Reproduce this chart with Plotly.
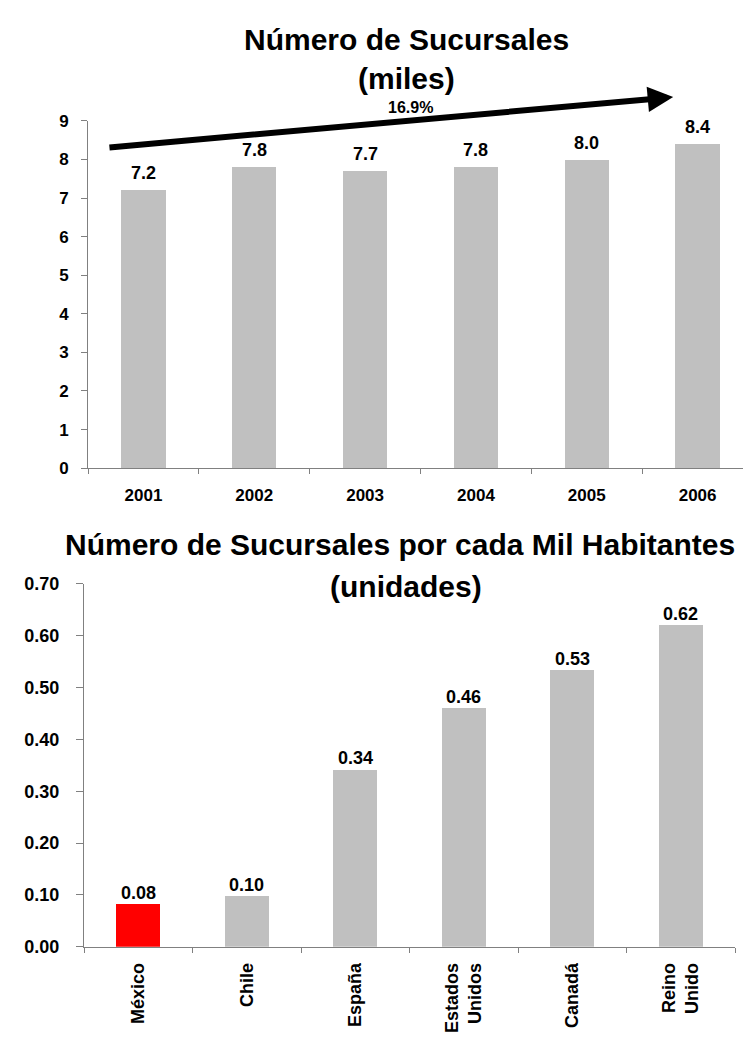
import plotly.graph_objects as go

# Número de Sucursales (miles)
YEARS = ["2001", "2002", "2003", "2004", "2005", "2006"]
BRANCHES = [7.2, 7.8, 7.7, 7.8, 8.0, 8.4]
GROWTH_TEXT = "16.9%"

# Número de Sucursales por cada Mil Habitantes (unidades)
COUNTRIES = ["México", "Chile", "España", "Estados<br>Unidos", "Canadá", "Reino<br>Unido"]
PER_THOUSAND = [0.083, 0.098, 0.342, 0.46, 0.534, 0.62]
HIGHLIGHT = "México"

FONT = "Liberation Sans, Arial, sans-serif"
GREY = "#C0C0C0"
RED = "#FF0000"
AXIS = "#808080"
W, H = 751, 1037


def px_x(v):
    return v / W


def px_y(v):
    return 1 - v / H


def bold(size):
    return dict(family=FONT, size=size, color="black", weight="bold")


fig = go.Figure()
fig.add_trace(go.Bar(
    x=YEARS, y=BRANCHES, marker=dict(color=GREY, line=dict(width=0)),
    width=0.4, xaxis="x", yaxis="y", hoverinfo="x+y",
))
fig.add_trace(go.Bar(
    x=COUNTRIES, y=PER_THOUSAND,
    marker=dict(color=[RED if c == HIGHLIGHT else GREY for c in COUNTRIES], line=dict(width=0)),
    width=0.41, xaxis="x2", yaxis="y2", hoverinfo="x+y",
))

annotations = []
# etiquetas de datos (x = índice de categoría)
for i, v in enumerate(BRANCHES):
    annotations.append(dict(
        xref="x", yref="y", x=i, y=v, text=f"{v:.1f}", showarrow=False,
        yanchor="middle", yshift=17, font=bold(18),
    ))
for i, v in enumerate(PER_THOUSAND):
    annotations.append(dict(
        xref="x2", yref="y2", x=i, y=v, text=f"{v:.2f}", showarrow=False,
        yanchor="middle", yshift=11, font=bold(18),
    ))

# flecha de crecimiento (cola dentro del eje)
annotations.append(dict(
    xref="x", yref="y", axref="x", ayref="y",
    x=4.78, y=9.62, ax=-0.32, ay=8.31, text="",
    showarrow=True, arrowhead=2, arrowsize=0.85, arrowwidth=6, arrowcolor="black",
))
annotations.append(dict(
    xref="paper", yref="paper", x=px_x(402), y=px_y(91), text=GROWTH_TEXT,
    showarrow=False, xanchor="center", yanchor="middle", font=bold(16),
))

# títulos
for text, x, y in [("Número de Sucursales", 398, 22), ("(miles)", 398, 62),
                   ("Número de Sucursales por cada Mil Habitantes", 392, 537),
                   ("(unidades)", 398, 580)]:
    annotations.append(dict(
        xref="paper", yref="paper", x=px_x(x), y=px_y(y), text=text,
        showarrow=False, xanchor="center", yanchor="middle", font=bold(30),
    ))

axis_common = dict(
    showline=True, linecolor=AXIS, linewidth=1, ticks="outside", tickcolor=AXIS,
    tickwidth=1, showgrid=False, zeroline=False, fixedrange=True,
)

fig.update_layout(
    width=W, height=H,
    margin=dict(l=0, r=0, t=0, b=0),
    paper_bgcolor="white", plot_bgcolor="white",
    showlegend=False, bargap=0,
    xaxis=dict(
        **axis_common, domain=[px_x(80), px_x(745)], anchor="y", type="category",
        range=[-0.5, len(YEARS) - 0.5], autorange=False,
        tickson="boundaries", ticklen=5, tickfont=bold(17), ticklabelstandoff=11,
    ),
    yaxis=dict(
        **axis_common, domain=[px_y(459), px_y(105)], anchor="x", range=[0, 9],
        autorange=False, dtick=1, ticklen=6, tickfont=bold(17), ticklabelstandoff=9,
    ),
    xaxis2=dict(
        **axis_common, domain=[px_x(76), px_x(727)], anchor="y2", type="category",
        range=[-0.5, len(COUNTRIES) - 0.5], autorange=False,
        tickson="boundaries", ticklen=5, tickangle=-90, tickfont=bold(18),
        ticklabelstandoff=8,
    ),
    yaxis2=dict(
        **axis_common, domain=[px_y(947), px_y(577)], anchor="x2", range=[0, 0.7],
        autorange=False, dtick=0.1, tickformat=".2f", ticklen=7, tickfont=bold(18),
        ticklabelstandoff=13,
    ),
    annotations=annotations,
)

fig.write_html("out.html")
